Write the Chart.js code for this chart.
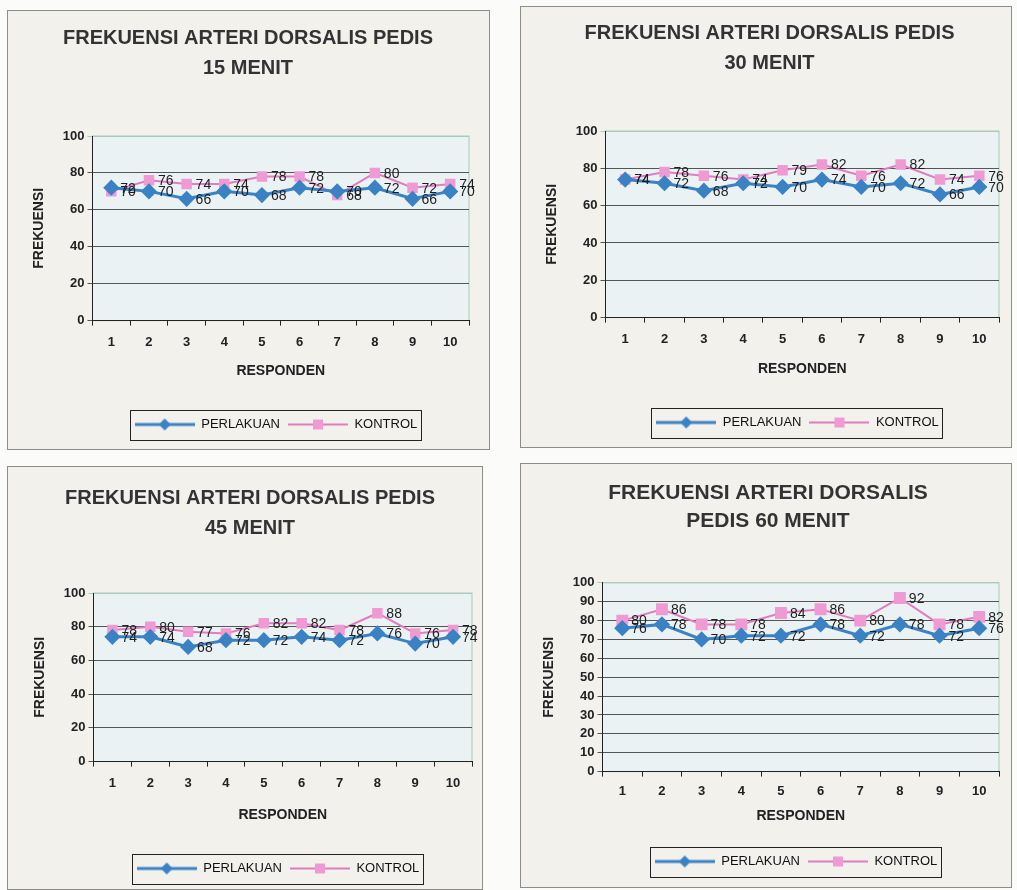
<!DOCTYPE html>
<html>
<head>
<meta charset="utf-8">
<script src="https://cdn.jsdelivr.net/npm/chart.js@4.4.0/dist/chart.umd.min.js"></script>
<style>
  body { margin: 0; background: #fbfbf9; width: 1017px; height: 890px; overflow: hidden; position: relative; }
  .panel { position: absolute; background: #f2f1ec; border: 1px solid #8c8c88; box-sizing: border-box; }
</style>
</head>
<body>
<div class="panel" style="left:7px;top:10px;width:483px;height:440px"><canvas id="c15"></canvas></div>
<div class="panel" style="left:520px;top:6px;width:492px;height:442px"><canvas id="c30"></canvas></div>
<div class="panel" style="left:7px;top:466px;width:476px;height:424px"><canvas id="c45"></canvas></div>
<div class="panel" style="left:520px;top:463px;width:492px;height:425px"><canvas id="c60"></canvas></div>
<script>
const responden = ['1', '2', '3', '4', '5', '6', '7', '8', '9', '10'];

const perlakuan15 = [72, 70, 66, 70, 68, 72, 70, 72, 66, 70];
const kontrol15   = [70, 76, 74, 74, 78, 78, 68, 80, 72, 74];

const perlakuan30 = [74, 72, 68, 72, 70, 74, 70, 72, 66, 70];
const kontrol30   = [74, 78, 76, 74, 79, 82, 76, 82, 74, 76];

const perlakuan45 = [74, 74, 68, 72, 72, 74, 72, 76, 70, 74];
const kontrol45   = [78, 80, 77, 76, 82, 82, 78, 88, 76, 78];

const perlakuan60 = [76, 78, 70, 72, 72, 78, 72, 78, 72, 76];
const kontrol60   = [80, 86, 78, 78, 84, 86, 80, 92, 78, 82];

const BLUE = '#3b82c4';
const PINK = '#e07cc0';
const PINK_FILL = '#f09ad4';
const FONT = "'Liberation Sans', Arial, sans-serif";

// little line+marker icons for the legend, like the excel ones
function legendIcon(kind) {
  const c = document.createElement('canvas');
  c.width = 60; c.height = 14;
  const g = c.getContext('2d');
  g.strokeStyle = kind === 'diamond' ? BLUE : PINK;
  g.lineWidth = kind === 'diamond' ? 3 : 2;
  g.beginPath(); g.moveTo(0, 7); g.lineTo(60, 7); g.stroke();
  if (kind === 'diamond') {
    g.fillStyle = BLUE;
    g.beginPath(); g.moveTo(30, 1); g.lineTo(36, 7); g.lineTo(30, 13); g.lineTo(24, 7); g.closePath(); g.fill();
  } else {
    g.fillStyle = PINK_FILL;
    g.fillRect(25, 2, 10, 10);
  }
  return c;
}
const icons = [legendIcon('diamond'), legendIcon('square')];

const plotBg = {
  id: 'plotBg',
  beforeDraw(chart) {
    const a = chart.chartArea, ctx = chart.ctx;
    ctx.save();
    ctx.fillStyle = '#ebf2f3';
    ctx.fillRect(a.left, a.top, a.width, a.height);
    ctx.strokeStyle = '#a9cbbd';
    ctx.lineWidth = 1;
    ctx.strokeRect(a.left, a.top, a.width, a.height);
    ctx.restore();
  }
};

const valueLabels = {
  id: 'valueLabels',
  afterDatasetsDraw(chart) {
    const ctx = chart.ctx;
    ctx.save();
    ctx.font = '14px ' + FONT;
    ctx.fillStyle = '#1e1e1e';
    ctx.textBaseline = 'middle';
    chart.data.datasets.forEach((ds, i) => {
      chart.getDatasetMeta(i).data.forEach((pt, j) => {
        ctx.fillText(String(ds.data[j]), pt.x + 9, pt.y + 1);
      });
    });
    ctx.restore();
  }
};

// excel puts the legend a bit right of centre and draws a frame round it
const legendBox = {
  id: 'legendBox',
  afterLayout(chart) {
    const s = chart.options.plugins.legend.shift || 0;
    chart.legend.left += s;
    chart.legend.right += s;
  },
  afterDraw(chart) {
    const boxes = chart.legend.legendHitBoxes;
    if (!boxes || !boxes.length) return;
    const l = Math.min(...boxes.map(b => b.left)) - 5;
    const r = Math.max(...boxes.map(b => b.left + b.width)) + 3;
    const t = boxes[0].top - 8;
    const h = boxes[0].height + 17;
    const ctx = chart.ctx;
    ctx.save();
    ctx.strokeStyle = '#222';
    ctx.lineWidth = 1;
    ctx.strokeRect(Math.round(l) + 0.5, Math.round(t) + 0.5, Math.round(r - l), Math.round(h));
    ctx.restore();
  }
};

function makeChart(id, titleLines, perlakuan, kontrol, step, o) {
  new Chart(document.getElementById(id), {
    type: 'line',
    data: {
      labels: responden,
      datasets: [
        { label: 'PERLAKUAN', data: perlakuan, borderColor: BLUE, backgroundColor: BLUE, borderWidth: 3,
          pointStyle: 'rectRot', pointRadius: 6, pointHoverRadius: 6, pointBackgroundColor: BLUE, pointBorderColor: BLUE },
        { label: 'KONTROL', data: kontrol, borderColor: PINK, backgroundColor: PINK_FILL, borderWidth: 2,
          pointStyle: 'rect', pointRadius: o.sq, pointHoverRadius: o.sq, pointBackgroundColor: PINK_FILL, pointBorderColor: PINK_FILL }
      ]
    },
    options: {
      responsive: true,
      maintainAspectRatio: false,
      animation: false,
      events: [],
      layout: { padding: { top: o.padTop, left: o.padLeft, right: o.padRight, bottom: o.padBottom } },
      plugins: {
        title: {
          display: true, text: titleLines, color: '#333',
          font: { family: FONT, size: o.titleSize, weight: 'bold', lineHeight: o.titleLH },
          padding: { top: 0, bottom: o.titleGap }
        },
        legend: {
          position: 'bottom',
          shift: 28,
          labels: {
            usePointStyle: true, pointStyleWidth: 60, color: '#111',
            font: { family: FONT, size: 13 }, padding: 8,
            generateLabels(chart) {
              const items = Chart.defaults.plugins.legend.labels.generateLabels(chart);
              items.forEach((it, i) => { it.pointStyle = icons[i]; });
              return items;
            }
          }
        },
        tooltip: { enabled: false }
      },
      scales: {
        x: {
          offset: true,
          grid: { offset: true, drawOnChartArea: false, tickLength: 5, color: '#222' },
          border: { color: '#222', width: 1 },
          ticks: { color: '#222', font: { family: FONT, size: 13, weight: 'bold' }, padding: o.xTickPad },
          title: { display: true, text: 'RESPONDEN', color: '#222',
            font: { family: FONT, size: 14, weight: 'bold' }, padding: { top: o.xTitleTop, bottom: o.xTitleBottom } }
        },
        y: {
          min: 0, max: 100,
          ticks: { stepSize: step, color: '#222', font: { family: FONT, size: 13, weight: 'bold' }, padding: 3 },
          grid: { color: c => c.tick && c.tick.value === 100 ? '#a9cbbd' : '#555', tickLength: 5 },
          border: { color: '#222', width: 1 },
          title: { display: true, text: 'FREKUENSI', color: '#222',
            font: { family: FONT, size: 14, weight: 'bold' }, padding: { bottom: 12 } }
        }
      }
    },
    plugins: [plotBg, valueLabels, legendBox]
  });
}

makeChart('c15', ['FREKUENSI ARTERI DORSALIS PEDIS', '15 MENIT'], perlakuan15, kontrol15, 20,
  { padTop: 12, padLeft: 19, padRight: 20, padBottom: 8, titleSize: 20, titleLH: 1.5, titleGap: 53, xTickPad: 9, xTitleTop: 4, xTitleBottom: 30, sq: 6 });
makeChart('c30', ['FREKUENSI ARTERI DORSALIS PEDIS', '30 MENIT'], perlakuan30, kontrol30, 20,
  { padTop: 11, padLeft: 19, padRight: 12, padBottom: 8, titleSize: 20, titleLH: 1.5, titleGap: 53, xTickPad: 9, xTitleTop: 5, xTitleBottom: 30, sq: 6 });
makeChart('c45', ['FREKUENSI ARTERI DORSALIS PEDIS', '45 MENIT'], perlakuan45, kontrol45, 20,
  { padTop: 16, padLeft: 20, padRight: 10, padBottom: 4, titleSize: 20, titleLH: 1.5, titleGap: 50, xTickPad: 9, xTitleTop: 7, xTitleBottom: 30, sq: 6 });
makeChart('c60', ['FREKUENSI ARTERI DORSALIS', 'PEDIS 60 MENIT'], perlakuan60, kontrol60, 10,
  { padTop: 15, padLeft: 16, padRight: 12, padBottom: 9, titleSize: 21, titleLH: 1.33, titleGap: 48, xTickPad: 7, xTitleTop: 2, xTitleBottom: 22, sq: 7 });
</script>
</body>
</html>
